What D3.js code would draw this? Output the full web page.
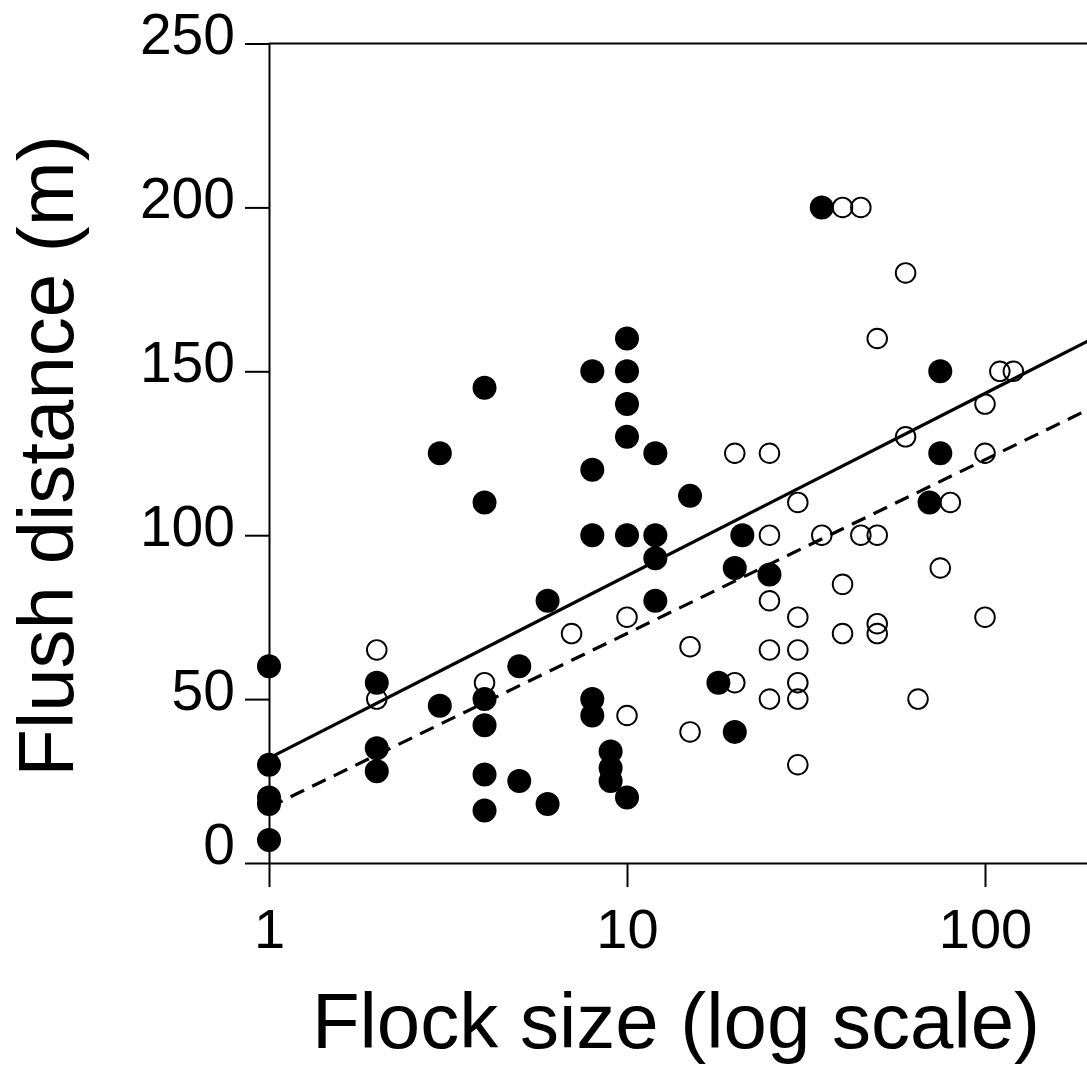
<!DOCTYPE html>
<html>
<head>
<meta charset="utf-8">
<script src="https://cdn.jsdelivr.net/npm/d3@7"></script>
<style>
  html, body { margin: 0; padding: 0; background: #fff; }
  svg { display: block; font-family: "Liberation Sans", Arial, sans-serif; }
</style>
</head>
<body>
<svg id="chart" width="1087" height="1065"></svg>
<script>
// ---- Data (flock size, flush distance in m) ----
const filledX = [1,1,1,1,1, 2,2,2, 3,3, 4,4,4,4,4,4, 5,5, 6,6, 8,8,8,8,8, 9,9,9, 10,10,10,10,10,10, 12,12,12,12, 15, 18, 20,20, 21, 25, 35, 70, 75,75];
const filledY = [60,30,20,18,7, 55,35,28, 125,48, 145,110,50,42,27,16, 60,25, 80,18, 150,120,100,50,45, 34,29,25, 160,150,140,130,100,20, 125,100,93,80, 112, 55, 90,40, 100, 88, 200, 110, 150,125];

const openX = [2,2, 4, 7, 10,10, 15,15, 20,20, 25,25,25,25,25, 30,30,30,30,30,30, 35, 40,45, 40,40, 45, 50,50,50, 50, 60,60, 65, 75, 80, 100,100,100, 110,120];
const openY = [65,50, 55, 70, 75,45, 66,40, 125,55, 125,100,80,65,50, 110,75,65,55,50,30, 100, 200,200, 85,70, 100, 100,73,70, 160, 180,130, 50, 90, 110, 140,125,75, 150,150];

// regression lines (end points)
const trendSolid  = [[1, 32], [200, 160]];
const trendDashed = [[1, 17], [200, 139]];

const xTicks = [1, 10, 100];
const yTicks = [0, 50, 100, 150, 200, 250];

// ---- Layout ----
const svg = d3.select("#chart");
const x0 = 269, decade = 358;
const x = d3.scaleLog().domain([1, 200]).range([x0, x0 + Math.log10(200) * decade]);
const y = d3.scaleLinear().domain([0, 250]).range([863, 43.5]);

// Top border
svg.append("line")
  .attr("x1", x0).attr("x2", 1087)
  .attr("y1", y(250)).attr("y2", y(250))
  .attr("stroke", "#000").attr("stroke-width", 2);

// Y axis
const yAxis = svg.append("g")
  .attr("transform", `translate(${x0},0)`)
  .call(d3.axisLeft(y).tickValues(yTicks).tickSize(24).tickSizeOuter(0).tickFormat(d3.format("d")));
yAxis.select(".domain").attr("stroke-width", 2);
yAxis.selectAll(".tick line").attr("stroke-width", 2);
yAxis.selectAll(".tick text")
  .attr("x", -34).attr("dy", null)
  .attr("y", d => d === 0 ? -20 : -10)
  .attr("dominant-baseline", "central")
  .attr("font-size", 57).attr("fill", "#000")
  .attr("font-family", "Liberation Sans, Arial, sans-serif");

// X axis
const xAxis = svg.append("g")
  .attr("transform", `translate(0,${y(0)})`)
  .call(d3.axisBottom(x).tickValues(xTicks).tickSize(24).tickSizeOuter(0).tickFormat(d3.format("d")));
xAxis.select(".domain").attr("stroke-width", 2);
xAxis.selectAll(".tick line").attr("stroke-width", 2);
xAxis.selectAll(".tick text")
  .attr("y", 85).attr("dy", null)
  .attr("font-size", 56).attr("fill", "#000")
  .attr("font-family", "Liberation Sans, Arial, sans-serif");

// Trend lines
const lineGen = d3.line().x(d => x(d[0])).y(d => y(d[1]));
svg.append("path").attr("d", lineGen(trendSolid))
  .attr("fill", "none").attr("stroke", "#000").attr("stroke-width", 3.2);
svg.append("path").attr("d", lineGen(trendDashed))
  .attr("fill", "none").attr("stroke", "#000").attr("stroke-width", 3.2)
  .attr("stroke-dasharray", "15,9");

// Open circles
svg.append("g").selectAll("circle")
  .data(openX.map((v, i) => [v, openY[i]]))
  .join("circle")
  .attr("cx", d => x(d[0])).attr("cy", d => y(d[1]))
  .attr("r", 9.8).attr("fill", "none")
  .attr("stroke", "#000").attr("stroke-width", 1.9);

// Filled circles
svg.append("g").selectAll("circle")
  .data(filledX.map((v, i) => [v, filledY[i]]))
  .join("circle")
  .attr("cx", d => x(d[0])).attr("cy", d => y(d[1]))
  .attr("r", 12).attr("fill", "#000");

// Axis titles
svg.append("text")
  .attr("x", 676).attr("y", 1048)
  .attr("text-anchor", "middle")
  .attr("font-size", 78).attr("fill", "#000")
  .text("Flock size (log scale)");

svg.append("text")
  .attr("transform", "translate(73,456) rotate(-90)")
  .attr("text-anchor", "middle")
  .attr("font-size", 78).attr("fill", "#000")
  .text("Flush distance (m)");
</script>
</body>
</html>
